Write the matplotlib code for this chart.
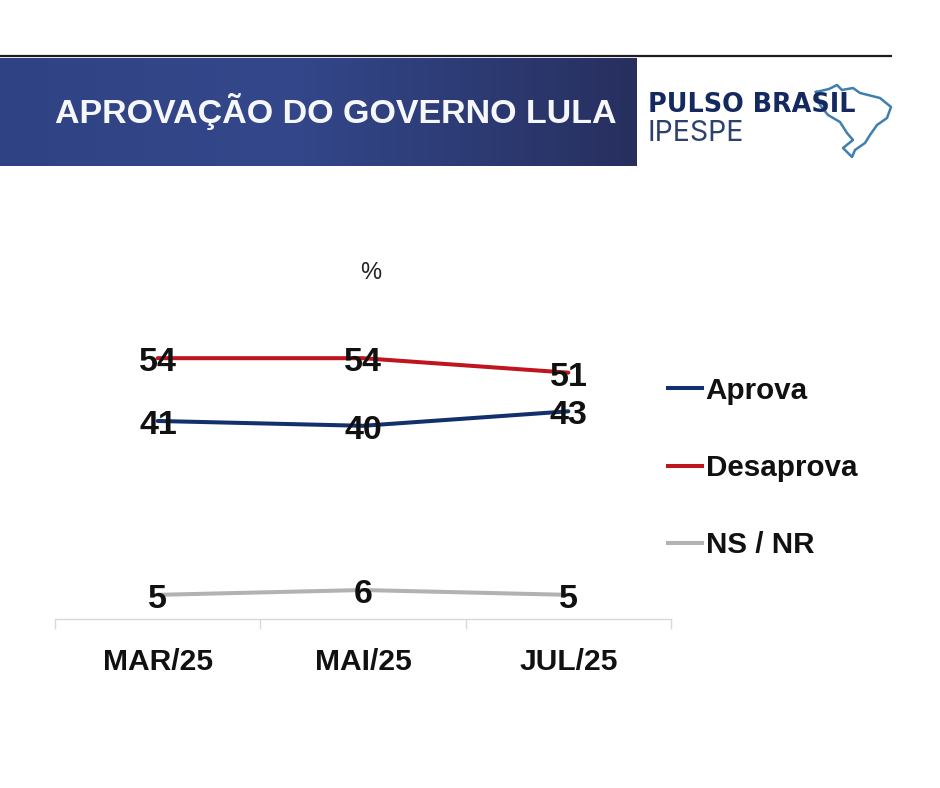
import numpy as np
import matplotlib
matplotlib.use("Agg")
import matplotlib.pyplot as plt
from matplotlib.lines import Line2D
from matplotlib.colors import LinearSegmentedColormap

plt.rcParams["font.family"] = ["Liberation Sans", "DejaVu Sans"]

W, H = 940, 788

periods = ["MAR/25", "MAI/25", "JUL/25"]
aprova = [41, 40, 43]
desaprova = [54, 54, 51]
ns_nr = [5, 6, 5]

series_names = ["Aprova", "Desaprova", "NS / NR"]
series_colors = ["#12306b", "#c0151f", "#b2b2b2"]
title = "APROVAÇÃO DO GOVERNO LULA"
unit = "%"

# Outline of the map of Brazil used in the logo, in pixels from the top left
brazil_x = [816, 829, 837, 842, 853, 860, 880, 891, 887, 877, 870, 865, 855, 852, 843, 853, 847, 840, 828, 820, 816]
brazil_y = [92, 89, 85, 90, 88, 93, 98, 107, 118, 125, 135, 143, 150, 157, 148, 140, 133, 122, 115, 105, 92]


def fx(px):
    return px / W


def fy(px):
    return 1 - px / H


fig = plt.figure(figsize=(W / 100, H / 100), dpi=100, facecolor="white")

# Page overlay in pixel coordinates for the header
page = fig.add_axes([0, 0, 1, 1], zorder=0)
page.set_xlim(0, W)
page.set_ylim(H, 0)
page.axis("off")

banner_cmap = LinearSegmentedColormap.from_list(
    "banner", [(0, "#2f4384"), (0.45, "#33478a"), (0.7, "#2e3d78"), (1, "#272f5e")]
)
page.imshow(
    np.linspace(0, 1, 256).reshape(1, -1),
    extent=(0, 637, 166, 58),
    cmap=banner_cmap,
    aspect="auto",
)
page.set_xlim(0, W)
page.set_ylim(H, 0)
page.plot([0, 892], [56, 56], color="#1c1c22", lw=1.6, solid_capstyle="butt")
page.text(55, 111, title, color="#f6f7fb", fontsize=24.5, fontweight="bold", va="center", ha="left")

# Logo
page.plot(brazil_x, brazil_y, color="#3f7fb0", lw=1.8, solid_joinstyle="round")
page.text(648, 105, "PULSO BRASIL", color="#14295f", fontsize=18.4, fontweight="bold",
          family="DejaVu Sans", va="center", ha="left")
page.text(648, 133, "IPESPE", color="#2c4170", fontsize=20.5, family="Inter", va="center", ha="left")

page.text(371, 273, unit, color="#222222", fontsize=17, va="center", ha="center")

# Line chart: 4.83 px per percentage point above the baseline at y = 619
ax = fig.add_axes([fx(55), fy(619), 616 / W, 289.8 / H], zorder=1)
ax.patch.set_alpha(0)
x = np.arange(len(periods))
all_series = [aprova, desaprova, ns_nr]
for values, color, name in zip(all_series, series_colors, series_names):
    ax.plot(x, values, color=color, lw=2.9, solid_capstyle="round", label=name)
    for xi, v in zip(x, values):
        ax.annotate(str(v), (xi, v), xytext=(0.2, -3.3), textcoords="offset points",
                    ha="center", va="center", fontsize=24.5, fontweight="bold",
                    color="#111111", zorder=5)

ax.set_xlim(-0.5, 2.5)
ax.set_ylim(0, 60)
ax.set_yticks([])
for side in ["top", "left", "right"]:
    ax.spines[side].set_visible(False)
ax.spines["bottom"].set_color("#d9d9d9")
ax.spines["bottom"].set_linewidth(1)
ax.set_xticks(x)
ax.set_xticklabels(periods, fontsize=21.6, fontweight="bold", color="#111111")
ax.set_xticks([-0.5, 0.5, 1.5, 2.5], minor=True)
ax.tick_params(axis="x", which="major", length=0, pad=20.7)
ax.tick_params(axis="x", which="minor", length=7.2, width=1, color="#d9d9d9")

handles = [Line2D([0], [0], color=c, lw=2.9) for c in series_colors]
leg = fig.legend(
    handles, series_names, loc="center left", bbox_to_anchor=(fx(668), fy(468)),
    frameon=False, borderpad=0, borderaxespad=0,
    handlelength=1.14, handletextpad=0.13, labelspacing=1.67,
    prop={"weight": "bold", "size": 21.3},
)
for t in leg.get_texts():
    t.set_color("#111111")

fig.savefig("out.png", dpi=100, facecolor="white")
